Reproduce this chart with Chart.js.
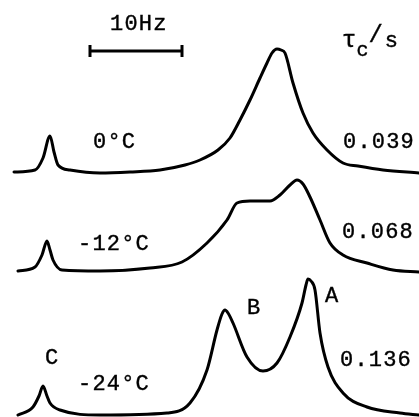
<!DOCTYPE html>
<html>
<head>
<meta charset="utf-8">
<script src="https://cdn.jsdelivr.net/npm/chart.js@4"></script>
<style>
  body { margin: 0; background: #fff; }
  #wrap { position: relative; width: 419px; height: 417px; }
  .lbl { position: absolute; font-family: "Liberation Mono", "DejaVu Sans Mono", monospace; font-size: 22px; line-height: 22px; letter-spacing: 1.2px; color: #000; white-space: nowrap; -webkit-text-stroke: 0.4px #000; }
</style>
</head>
<body>
<div id="wrap">
  <canvas id="nmr"></canvas>
</div>
<script>
// traces (x = frequency position, y = plotted height, both in figure units)
const x0C = [14, 35, 43, 50, 54, 58, 70, 100, 130, 160, 185, 200, 218, 230, 240, 250, 260, 267, 272, 277, 281, 285, 293, 303, 313, 327, 343, 358, 383, 419];
const y0C = [172, 170, 158, 136, 152, 165, 170, 173, 172, 170, 165, 160, 150, 138, 120, 100, 78, 63, 53, 49, 50, 53, 83, 113, 133, 150, 163, 166, 170, 173];

const x12C = [18, 35, 42, 47, 50, 53, 62, 100, 150, 182, 207, 227, 237, 250, 270, 280, 290, 297, 303, 310, 320, 330, 343, 367, 393, 419];
const y12C = [271, 267, 255, 241, 250, 260, 270, 271, 268, 262, 243, 220, 203, 201, 201, 195, 185, 180, 184, 197, 220, 243, 255, 263, 270, 272];

const x24C = [18, 33, 39, 43, 47, 50, 60, 100, 167, 190, 207, 217, 222, 225, 228, 233, 247, 263, 277, 290, 302, 306, 308, 311, 315, 320, 328, 343, 367, 400, 419];
const y24C = [415, 407, 396, 386, 396, 403, 410, 415, 413, 403, 370, 330, 314, 310, 313, 323, 357, 371, 363, 337, 303, 285, 279, 281, 290, 333, 367, 393, 407, 413, 415];

// 10 Hz scale bar
const barX = [90, 182];
const barY = [51, 51];

const labels = [
  { t: "10Hz", x: 110, base: 31 },
  { t: "0°C", x: 93, base: 149 },
  { t: "0.039", x: 343, base: 149 },
  { t: "-12°C", x: 78, base: 251 },
  { t: "0.068", x: 342, base: 239 },
  { t: "-24°C", x: 78, base: 391 },
  { t: "0.136", x: 340, base: 367 },
  { t: "C", x: 45, base: 365 },
  { t: "B", x: 247, base: 315 },
  { t: "A", x: 325, base: 303 }
];

function pts(xs, ys) {
  return xs.map((x, i) => ({ x: x, y: ys[i] }));
}

function trace(xs, ys) {
  return {
    data: pts(xs, ys),
    showLine: true,
    borderColor: "#000",
    borderWidth: 3,
    pointRadius: 0,
    cubicInterpolationMode: "monotone",
    borderCapStyle: "round",
    borderJoinStyle: "round",
    clip: false
  };
}

new Chart("nmr", {
  type: "scatter",
  data: {
    datasets: [
      trace(x0C, y0C),
      trace(x12C, y12C),
      trace(x24C, y24C),
      {
        data: pts(barX, barY),
        showLine: true,
        borderColor: "#000",
        backgroundColor: "#000",
        borderWidth: 3,
        pointStyle: "line",
        rotation: 90,
        pointRadius: 6,
        pointBorderWidth: 3,
        clip: false
      }
    ]
  },
  options: {
    responsive: true,
    maintainAspectRatio: false,
    animation: false,
    layout: { padding: 0, autoPadding: false },
    plugins: { legend: { display: false }, tooltip: { enabled: false } },
    scales: {
      x: { type: "linear", min: 0, max: 419, display: false },
      y: { type: "linear", min: 0, max: 417, reverse: true, display: false }
    }
  }
});

// text labels, placed by baseline
const wrap = document.getElementById("wrap");
labels.forEach(l => {
  const d = document.createElement("div");
  d.className = "lbl";
  d.textContent = l.t;
  d.style.left = l.x + "px";
  d.style.top = (l.base - 17) + "px";
  wrap.appendChild(d);
});

// tau_c / s
const tau = document.createElement("div");
tau.className = "lbl";
tau.style.left = "342px";
tau.style.top = (47 - 17) + "px";
tau.style.letterSpacing = "0px";
tau.innerHTML = '<span style="font-size:24px">τ</span><span style="position:relative;top:9px;font-size:20px">c</span><span style="position:relative;top:-5px;font-size:24px">/</span><span style="font-size:22px;margin-left:2px">s</span>';
wrap.appendChild(tau);
</script>
</body>
</html>
